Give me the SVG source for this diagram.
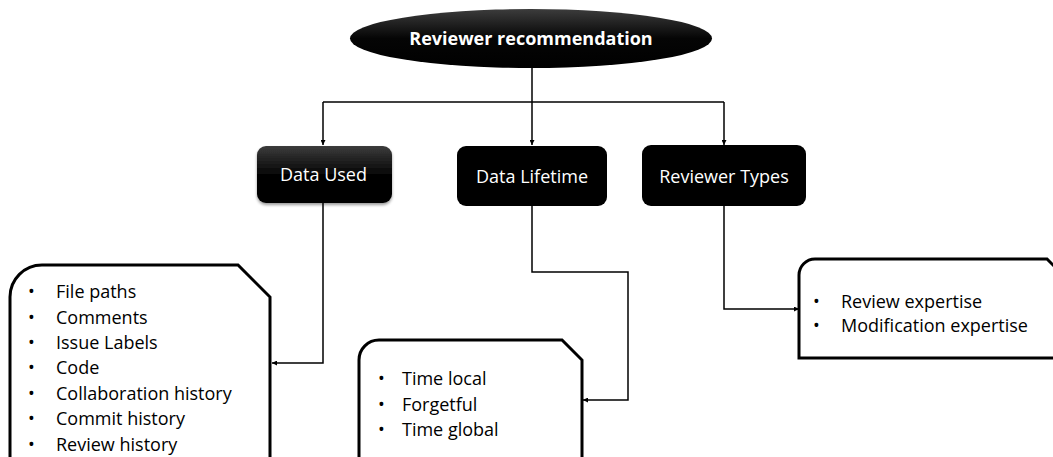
<svg xmlns="http://www.w3.org/2000/svg" width="1053" height="457" viewBox="0 0 1053 457">
  <defs>
    <style>
      .title { font-family: "Open Sans", "Liberation Sans", sans-serif; font-size: 18px; font-weight: bold; fill: #ffffff; text-anchor: middle; }
      .head { font-family: "Open Sans", "Liberation Sans", sans-serif; font-size: 18px; fill: #ffffff; text-anchor: middle; }
      .item { font-family: "Open Sans", "Liberation Sans", sans-serif; font-size: 18px; fill: #000000; }
      .card { fill: #ffffff; stroke: #000000; stroke-width: 3; stroke-linejoin: miter; }
      .wire { fill: none; stroke: #000000; stroke-width: 1.5; }
      .headbox { fill: #000000; }
    </style>
    <linearGradient id="sheen" x1="0" y1="0" x2="0" y2="1">
      <stop offset="0" stop-color="#3c3c3c"/>
      <stop offset="0.5" stop-color="#050505"/>
      <stop offset="1" stop-color="#000000"/>
    </linearGradient>
    <filter id="soft" x="-10%" y="-10%" width="120%" height="130%">
      <feGaussianBlur in="SourceAlpha" stdDeviation="1.5"/>
      <feOffset dy="1.5" result="b"/>
      <feComponentTransfer><feFuncA type="linear" slope="0.4"/></feComponentTransfer>
      <feMerge><feMergeNode/><feMergeNode in="SourceGraphic"/></feMerge>
    </filter>
    <marker id="tip" viewBox="0 0 10 10" refX="10" refY="5" markerWidth="5" markerHeight="5" orient="auto" markerUnits="userSpaceOnUse">
      <path d="M0,0 L10,5 L0,10 Z" fill="#000000"/>
    </marker>
  </defs>

  <rect width="1053" height="457" fill="#ffffff"/>

  <!-- connectors -->
  <g id="connectors">
    <path class="wire" d="M532,68 L532,102"/>
    <path class="wire" d="M323,102 L724,102"/>
    <path class="wire" d="M323,102 L323,145" marker-end="url(#tip)"/>
    <path class="wire" d="M532,102 L532,145" marker-end="url(#tip)"/>
    <path class="wire" d="M724,102 L724,145" marker-end="url(#tip)"/>
    <path class="wire" d="M323,203 L323,363 L272,363" marker-end="url(#tip)"/>
    <path class="wire" d="M532,206 L532,272 L628,272 L628,400 L583,400" marker-end="url(#tip)"/>
    <path class="wire" d="M724,206 L724,309 L799,309" marker-end="url(#tip)"/>
  </g>

  <!-- root -->
  <g id="root">
    <ellipse cx="531" cy="38.5" rx="181" ry="29.5" fill="url(#sheen)"/>
    <text class="title" x="531" y="45">Reviewer recommendation</text>
  </g>

  <!-- category heads -->
  <g id="data-used">
    <rect x="257" y="146" width="135" height="57" rx="9" fill="url(#sheen)" filter="url(#soft)"/>
    <text class="head" x="323.5" y="181">Data Used</text>
  </g>
  <g id="data-lifetime">
    <rect class="headbox" x="457" y="146" width="150" height="60" rx="9"/>
    <text class="head" x="532" y="183">Data Lifetime</text>
  </g>
  <g id="reviewer-types">
    <rect class="headbox" x="642" y="145" width="164" height="61" rx="9"/>
    <text class="head" x="724" y="183">Reviewer Types</text>
  </g>

  <!-- detail cards -->
  <g id="data-used-list">
    <path class="card" d="M10,480 L10,297 A32,32 0 0 1 42,265 L238,265 L270,297 L270,480 Z"/>
    <g class="item">
      <text x="28" y="298">•</text><text x="56" y="298">File paths</text>
      <text x="28" y="323.5">•</text><text x="56" y="323.5">Comments</text>
      <text x="28" y="349">•</text><text x="56" y="349">Issue Labels</text>
      <text x="28" y="374">•</text><text x="56" y="374">Code</text>
      <text x="28" y="399.5">•</text><text x="56" y="399.5">Collaboration history</text>
      <text x="28" y="425">•</text><text x="56" y="425">Commit history</text>
      <text x="28" y="450.5">•</text><text x="56" y="450.5">Review history</text>
    </g>
  </g>
  <g id="data-lifetime-list">
    <path class="card" d="M359,480 L359,360 A20,20 0 0 1 379,340 L562,340 L582,360 L582,480 Z"/>
    <g class="item">
      <text x="378" y="385">•</text><text x="402" y="385">Time local</text>
      <text x="378" y="410.5">•</text><text x="402" y="410.5">Forgetful</text>
      <text x="378" y="436">•</text><text x="402" y="436">Time global</text>
    </g>
  </g>
  <g id="reviewer-types-list">
    <path class="card" d="M799,358 L799,275 A16,16 0 0 1 815,259 L1047,259 L1065,277 L1065,358 Z"/>
    <g class="item">
      <text x="813" y="308">•</text><text x="841" y="308">Review expertise</text>
      <text x="813" y="332">•</text><text x="841" y="332">Modification expertise</text>
    </g>
  </g>
</svg>
